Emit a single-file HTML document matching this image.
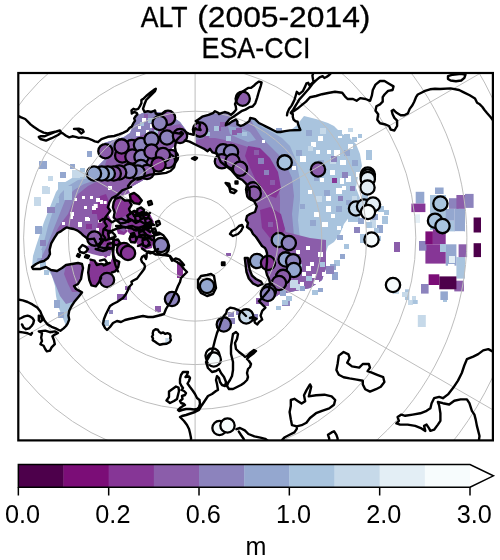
<!DOCTYPE html><html><head><meta charset="utf-8"><style>html,body{margin:0;padding:0;background:#fff;width:500px;height:560px;overflow:hidden}svg{display:block}text{font-family:"Liberation Sans",sans-serif;fill:#000}svg{will-change:transform}</style></head><body>
<svg width="500" height="560" viewBox="0 0 500 560">
<defs><clipPath id="mc"><rect x="18.3" y="73" width="474.6" height="367.4"/></clipPath></defs>
<text x="140.7" y="26.9" font-size="29.5" stroke="#000" stroke-width="0.3" textLength="46.92" lengthAdjust="spacingAndGlyphs">ALT</text>
<text x="197.2" y="26.9" font-size="29.5" stroke="#000" stroke-width="0.3" textLength="173.23" lengthAdjust="spacingAndGlyphs">(2005-2014)</text>
<text x="201.5" y="58.4" font-size="29.5" stroke="#000" stroke-width="0.3" textLength="108.87" lengthAdjust="spacingAndGlyphs">ESA-CCI</text>
<g clip-path="url(#mc)">
<polygon fill="#a9c4de" points="195,121 202,117 208,115 213,113 218,113 224,112 228,113 231,115 229,119 226,123 226,125 229,124 232,122 236,120 237,122 237,124 241,126 244,125 247,123 249,121 250,118 253,118.5 255,119 259,123 262.5,125 266,126.6 269.7,128.4 273.3,130.2 276.9,132 280.5,132 285,131 290,130.4 296,126 300,121 304,116 316,119 328,123 334,126 342,134 350,138 356,144 360,154 362,166 358,176 356,188 360,198 356,208 350,216 344,224 340,234 334,242 328,246 326,252 326,268 322,280 316,284 310,288 300,290 290,292 280,294 270,300 262,302 262,301 266,296 269,289 270,283 269,279 267,275 266,271 267,262 267,253 266,250 265,248 262,246 260,243 258,240 256,237 253,234 251,230 247,227 248,223 246,220 247,216 250,214 255,212 256.8,206.4 254.4,201.6 249.6,196.8 249.6,190 246,183.6 242.4,180 237.6,177.6 231.6,170.4 226,166 220.8,162 217.2,153.6 212.4,152.4 210,148.8 207.6,151.2 204,148.8 196,145"/>
<polygon fill="#94a7cf" points="195,121 202,117 208,115 213,113 218,113 224,112 228,113 231,115 229,119 226,123 226,125 229,124 232,122 236,120 237,122 237,124 241,126 244,125 247,123 249,121 250,118 253,118.5 255,119 259,123 262,127 272,132 282,138 290,146 296,160 300,180 300,200 298,220 300,238 326,268 322,280 316,284 310,288 300,290 290,292 280,294 270,300 262,302 262,301 266,296 269,289 270,283 269,279 267,275 266,271 267,262 267,253 266,250 265,248 262,246 260,243 258,240 256,237 253,234 251,230 247,227 248,223 246,220 247,216 250,214 255,212 256.8,206.4 254.4,201.6 249.6,196.8 249.6,190 246,183.6 242.4,180 237.6,177.6 231.6,170.4 226,166 220.8,162 217.2,153.6 212.4,152.4 210,148.8 207.6,151.2 204,148.8 196,145"/>
<polygon fill="#8c83bd" points="195,121 202,117 208,115 213,113 218,113 224,112 228,113 231,115 229,119 226,123 226,125 229,124 232,122 236,120 237,122 237,124 241,126 244,125 247,123 249,121 250,118 254,126 262,138 272,148 284,160 292,178 294,196 292,214 294,236 326,268 322,280 316,284 310,288 300,290 290,292 280,294 270,300 262,302 262,301 266,296 269,289 270,283 269,279 267,275 266,271 267,262 267,253 266,250 265,248 262,246 260,243 258,240 256,237 253,234 251,230 247,227 248,223 246,220 247,216 250,214 255,212 256.8,206.4 254.4,201.6 249.6,196.8 249.6,190 246,183.6 242.4,180 237.6,177.6 231.6,170.4 226,166 220.8,162 217.2,153.6 212.4,152.4 210,148.8 207.6,151.2 204,148.8 196,145"/>
<polygon fill="#8b5daa" points="196,140 205,138 215,138 225,140 235,143 245,146 255,150 265,158 272,168 278,182 280,198 280,214 286,232 310,238 326,240 326,268 322,280 316,284 310,288 300,290 290,292 280,294 270,300 262,302 262,301 266,296 269,289 270,283 269,279 267,275 266,271 267,262 267,253 266,250 265,248 262,246 260,243 258,240 256,237 253,234 251,230 247,227 248,223 246,220 247,216 250,214 255,212 256.8,206.4 254.4,201.6 249.6,196.8 249.6,190 246,183.6 242.4,180 237.6,177.6 231.6,170.4 226,166 220.8,162 217.2,153.6 212.4,152.4 210,148.8 207.6,151.2 204,148.8 196,145"/>
<polygon fill="#863696" points="248,146 260,148 270,158 278,172 281,188 276,198 267,195 258,185 251,170 245,156"/>
<polygon fill="#863696" points="260,210 270,207 281,214 285,229 280,240 270,238 262,228"/>
<polygon fill="#94a7cf" points="228,126 240,128 250,132 256,140 248,142 238,138 230,134"/>
<polygon fill="#a9c4de" points="92,178 96,168 104,160 108,150 104,143 114,140 124,137 130,133 134,124 136,116 145,112 158,112 170,115 180,122 186,130 184,138 176,144 170,150 166,158 160,168 150,176 140,182 131,187 127,188.5 122.2,190.3 117.1,195.4 112,198 109.5,202.2 107.8,207.3 110.3,210.7 107.8,214.1 105.2,217.5 104.4,221.8 106.9,226 103.5,229.4 102.7,234.5 105.2,237.9 102.7,241.3 100.1,244.7 98.4,248.1 94,240 88,239.4 83,235 77.6,230.6 73.6,229 69.6,228.2 66.4,227.4 64,229 60.8,231.4 57.6,233 54.4,237.8 51.2,243.4 49.6,249.8 50,254 48,258 44,261 40,262 36,264 32,267 32,267 33,256 36,246 40,234 44,222 48,212 52,202 56,192 62,184 72,178 84,176"/>
<polygon fill="#94a7cf" points="92,178 96,168 104,160 108,150 104,143 114,140 124,137 130,133 134,124 136,116 145,112 158,112 170,115 180,122 186,130 184,138 176,144 170,150 166,158 160,168 150,176 140,182 131,187 127,188.5 122.2,190.3 117.1,195.4 112,198 109.5,202.2 107.8,207.3 110.3,210.7 107.8,214.1 105.2,217.5 104.4,221.8 106.9,226 103.5,229.4 102.7,234.5 105.2,237.9 102.7,241.3 100.1,244.7 98.4,248.1 94,240 88,239.4 83,235 77.6,230.6 73.6,229 69.6,228.2 66.4,227.4 64,229 60.8,231.4 57.6,233 54.4,237.8 51.2,243.4 49.6,249.8 50,254 48,258 44,261 40,262 36,264 32,267 36,264 38,256 42,248 45,238 48,226 52,214 56,204 60,194 68,186 78,180 90,178"/>
<polygon fill="#8c83bd" points="92,178 96,168 104,160 108,150 104,143 114,140 124,137 130,133 134,124 136,116 145,112 158,112 170,115 180,122 186,130 184,138 176,144 170,150 166,158 160,168 150,176 140,182 131,187 127,188.5 122.2,190.3 117.1,195.4 112,198 109.5,202.2 107.8,207.3 110.3,210.7 107.8,214.1 105.2,217.5 104.4,221.8 106.9,226 103.5,229.4 102.7,234.5 105.2,237.9 102.7,241.3 100.1,244.7 98.4,248.1 94,240 88,239.4 83,235 77.6,230.6 73.6,229 69.6,228.2 66.4,227.4 64,229 60.8,231.4 57.6,233 54.4,237.8 51.2,243.4 49.6,249.8 50,254 48,258 44,261 40,262 36,264 32,267 40,262 42,256 46,248 50,238 54,228 58,218 62,208 66,198 74,190 84,184 96,180"/>
<polygon fill="#8b5daa" points="110,150 120,142 130,140 140,136 150,132 160,128 170,126 180,124 186,130 184,138 176,144 170,150 166,158 160,168 150,176 140,182 131,187 127,188.5 122.2,190.3 117.1,195.4 112,198 109.5,202.2 107.8,207.3 110.3,210.7 107.8,214.1 105.2,217.5 104.4,221.8 106.9,226 103.5,229.4 102.7,234.5 105.2,237.9 102.7,241.3 100.1,244.7 98.4,248.1 94,240 88,239.4 83,235 77.6,230.6 73.6,229 69.6,228.2 66.4,227.4 64,229 60.8,231.4 56,232 58,228 62,222 68,214 72,204 78,194 88,186 100,180"/>
<polygon fill="#863696" points="115.4,198.8 120.5,197.1 124.8,200.5 129,200.5 131.6,204.8 129,209 130.7,213.3 127.3,215.8 129,219.2 125.6,222.6 120.5,223.5 117.1,220.9 113.7,217.5 114.6,212.4 112.9,207.3 113.7,202.2"/>
<polygon fill="#7b0d77" points="129.9,194.6 134.1,192.9 138.4,196.3 141.8,200.5 139.2,203.9 134.1,203.1 130.7,199.7"/>
<polygon fill="#a9c4de" points="46,267 51,270 57,271 62,268 66,265 72,264 78,263 82,264 83,268 82,273 81,279 78,284 74,286 76,289 82,292.4 78.8,296.4 74.8,301.2 71.6,306 69.2,310.8 68.4,315.6 69.2,319.6 67.6,323.6 66,326 62,316 58,306 56,296 55,286 52,276"/>
<polygon fill="#8c83bd" points="46,267 51,270 57,271 62,268 66,265 72,264 78,263 82,264 83,268 82,273 81,279 78,284 74,286 76,289 82,292.4 78.8,296.4 74.8,301.2 66,304 60,296 56,286 52,276 50,270"/>
<polygon fill="#8b5daa" points="66,265 72,264 78,263 82,264 83,268 82,273 81,279 78,284 74,286 76,289 78,292 72,292 68,284 64,274"/>
<polygon fill="#863696" points="100,196 106,194 110,204 108,214 112,222 110,236 112,250 106,258 98,252 96,236 98,222 96,208"/>
<polygon fill="#863696" points="137.5,209 141,207.5 144,210 143,214 139,214.5 137,212"/>
<polygon fill="#863696" points="143,213.5 146.5,212.5 149,215.5 147.5,218.5 144,218"/>
<polygon fill="#7b0d77" points="145,219 149,218 151.5,221 150,225 146,224.5"/>
<polygon fill="#863696" points="130.5,236 134.5,235 137,238.5 135,242.5 131,242 129.5,239"/>
<polygon fill="#863696" points="139,232 143,231 146,234 144.5,237.5 140,237"/>
<polygon fill="#8b5daa" points="142.5,240 147,239 149.5,243 147,246.5 143,245.5"/>
<polygon fill="#863696" points="114,240 118,239.5 120,243 117,245.5 113.5,244"/>
<polygon fill="#863696" points="116,228 124,227 128,231 124,235 118,234"/>
<polygon fill="#863696" points="100,222 106,220 108,226 104,230"/>
<polygon fill="#863696" points="130,212 140,210 150,214 154,222 150,230 154,240 152,248 144,250 138,246 134,238 128,232 126,222"/>
<polygon fill="#8b5daa" points="120,218 126,216 128,226 124,232 120,230"/>
<polygon fill="#863696" points="90,260 95,261 101,264 106,265 110,263 113,256 113,246 116,260 119,262 118,267 115,271 110,273 104,276 100,279 96,286 91,285 89,280 88,272 89,265"/>
<polygon fill="#8b5daa" points="86,246 96,244 106,246 112,250 110,256 100,256 92,254 86,252"/>
<polygon fill="#8b5daa" points="110,190 120,188 128,189 130,193 122,196 114,199 110,196"/>
<polygon fill="#8b5daa" points="244.8,258 245.6,265 246.5,272 248.8,278.5 253,283.5 258,286 262.5,284 261,281.5 256,279 252,275.5 249.8,270 248.6,264 247.8,258"/>
<rect fill="#a9c4de" x="335" y="222" width="8" height="6"/>
<rect fill="#a9c4de" x="348" y="214" width="12" height="8"/>
<rect fill="#a9c4de" x="360" y="234" width="6" height="9"/>
<rect fill="#a9c4de" x="382" y="216" width="6" height="8"/>
<rect fill="#a9c4de" x="334" y="260" width="6" height="6"/>
<rect fill="#a9c4de" x="366" y="150" width="6" height="10"/>
<rect fill="#a9c4de" x="362" y="190" width="6" height="6"/>
<rect fill="#a9c4de" x="344" y="244" width="5" height="5"/>
<rect fill="#a9c4de" x="376" y="236" width="5" height="5"/>
<rect fill="#94a7cf" x="337" y="235" width="6" height="5"/>
<rect fill="#94a7cf" x="377" y="225" width="6" height="8"/>
<rect fill="#94a7cf" x="332" y="272" width="6" height="8"/>
<rect fill="#94a7cf" x="330" y="264" width="6" height="6"/>
<rect fill="#94a7cf" x="340" y="254" width="5" height="5"/>
<rect fill="#8c83bd" x="354" y="227" width="6" height="6"/>
<rect fill="#8c83bd" x="326" y="266" width="8" height="8"/>
<rect fill="#8c83bd" x="282" y="300" width="8" height="6"/>
<rect fill="#c6d9e9" x="370" y="220" width="6" height="8"/>
<rect fill="#c6d9e9" x="290" y="280" width="8" height="8"/>
<rect fill="#c6d9e9" x="296" y="284" width="6" height="6"/>
<rect fill="#c6d9e9" x="352" y="196" width="5" height="5"/>
<rect fill="#8b5daa" x="394" y="242" width="6" height="10"/>
<rect fill="#8b5daa" x="318" y="242" width="8" height="6"/>
<rect fill="#863696" x="332" y="178" width="5" height="5"/>
<rect fill="#ffffff" x="311" y="142" width="5" height="5"/>
<rect fill="#ffffff" x="300" y="156" width="6" height="6"/>
<rect fill="#ffffff" x="316" y="150" width="4" height="4"/>
<rect fill="#ffffff" x="306" y="266" width="5" height="5"/>
<rect fill="#ffffff" x="312" y="274" width="4" height="4"/>
<rect fill="#ffffff" x="300" y="282" width="4" height="4"/>
<rect fill="#ffffff" x="320" y="178" width="4" height="4"/>
<rect fill="#ffffff" x="326" y="196" width="5" height="5"/>
<rect fill="#ffffff" x="340" y="160" width="6" height="5"/>
<rect fill="#ffffff" x="346" y="176" width="5" height="6"/>
<rect fill="#ffffff" x="292" y="166" width="4" height="4"/>
<rect fill="#ffffff" x="262" y="140" width="3" height="3"/>
<rect fill="#a9c4de" x="430" y="195" width="16" height="35"/>
<rect fill="#a9c4de" x="445.7" y="220.7" width="8.6" height="10.7"/>
<rect fill="#a9c4de" x="456.4" y="257.1" width="8.6" height="21.5"/>
<rect fill="#a9c4de" x="405" y="289.3" width="4.3" height="10.7"/>
<rect fill="#94a7cf" x="435" y="187.5" width="8.6" height="6.5"/>
<rect fill="#94a7cf" x="415.7" y="191.8" width="8.6" height="11.8"/>
<rect fill="#94a7cf" x="445.7" y="244.3" width="10.7" height="21.4"/>
<rect fill="#94a7cf" x="440.4" y="291.4" width="7.5" height="8.6"/>
<rect fill="#863696" x="411.4" y="203.6" width="14" height="8.5"/>
<rect fill="#863696" x="432.9" y="229.3" width="12.8" height="15"/>
<rect fill="#863696" x="425.4" y="244.3" width="20.3" height="19.3"/>
<rect fill="#e3eef5" x="414.6" y="214.3" width="5.4" height="8.6"/>
<rect fill="#e3eef5" x="449" y="256" width="6" height="7"/>
<rect fill="#8c83bd" x="449" y="198.2" width="9.6" height="10.7"/>
<rect fill="#8c83bd" x="465" y="193.9" width="8.6" height="14"/>
<rect fill="#8c83bd" x="419" y="241" width="7.4" height="9.7"/>
<rect fill="#8c83bd" x="421" y="284" width="7.6" height="9.6"/>
<rect fill="#8b5daa" x="456.4" y="195" width="8.6" height="13.9"/>
<rect fill="#8b5daa" x="458.6" y="244.3" width="8.5" height="12.8"/>
<rect fill="#8b5daa" x="454.3" y="280.7" width="9.6" height="10.7"/>
<rect fill="#4d004b" x="473.6" y="217.5" width="7.4" height="15"/>
<rect fill="#4d004b" x="473.6" y="243.2" width="7.4" height="13.9"/>
<rect fill="#4d004b" x="439.3" y="276.4" width="17.1" height="12.9"/>
<rect fill="#7b0d77" x="425.4" y="231.4" width="7.5" height="12.9"/>
<rect fill="#7b0d77" x="428.6" y="274.3" width="10.7" height="10.7"/>
<rect fill="#8b5daa" x="155" y="306" width="6" height="6"/>
<rect fill="#8b5daa" x="117" y="294" width="10" height="6"/>
<rect fill="#8b5daa" x="125" y="286" width="6" height="4"/>
<rect fill="#8b5daa" x="256" y="298" width="8" height="6"/>
<rect fill="#8b5daa" x="226" y="253" width="5" height="3"/>
<rect fill="#863696" x="177" y="262" width="6" height="16"/>
<rect fill="#a9c4de" x="102" y="320" width="7" height="6"/>
<rect fill="#8c83bd" x="109" y="310" width="4" height="4"/>
<rect fill="#8c83bd" x="224" y="318" width="11" height="6"/>
<rect fill="#8c83bd" x="241" y="311" width="12" height="11"/>
<rect fill="#ffffff" x="334" y="150" width="6" height="6"/>
<rect fill="#ffffff" x="330" y="170" width="5" height="5"/>
<rect fill="#ffffff" x="336" y="188" width="6" height="6"/>
<rect fill="#ffffff" x="326" y="206" width="5" height="6"/>
<rect fill="#ffffff" x="322" y="222" width="6" height="5"/>
<rect fill="#ffffff" x="318" y="136" width="5" height="5"/>
<rect fill="#ffffff" x="308" y="190" width="4" height="4"/>
<rect fill="#ffffff" x="314" y="212" width="5" height="5"/>
<rect fill="#ffffff" x="338" y="132" width="4" height="6"/>
<rect fill="#ffffff" x="340" y="178" width="4" height="6"/>
<rect fill="#ffffff" x="331" y="214" width="4" height="4"/>
<rect fill="#94a7cf" x="306" y="130" width="6" height="6"/>
<rect fill="#94a7cf" x="318" y="160" width="6" height="6"/>
<rect fill="#94a7cf" x="324" y="190" width="6" height="6"/>
<rect fill="#94a7cf" x="310" y="220" width="6" height="6"/>
<rect fill="#94a7cf" x="296" y="150" width="6" height="6"/>
<rect fill="#94a7cf" x="314" y="176" width="5" height="5"/>
<rect fill="#94a7cf" x="300" y="204" width="5" height="5"/>
<rect fill="#94a7cf" x="276" y="128" width="6" height="5"/>
<rect fill="#c6d9e9" x="320" y="128" width="6" height="6"/>
<rect fill="#c6d9e9" x="330" y="158" width="6" height="6"/>
<rect fill="#c6d9e9" x="316" y="196" width="6" height="6"/>
<rect fill="#c6d9e9" x="308" y="146" width="5" height="5"/>
<rect fill="#8c83bd" x="212" y="124" width="6" height="6"/>
<rect fill="#8c83bd" x="222" y="132" width="6" height="6"/>
<rect fill="#8c83bd" x="206" y="128" width="5" height="5"/>
<rect fill="#8b5daa" x="216" y="126" width="5" height="5"/>
<rect fill="#8b5daa" x="232" y="130" width="5" height="5"/>
<rect fill="#8b5daa" x="204" y="136" width="5" height="5"/>
<rect fill="#94a7cf" x="39" y="161" width="8" height="8"/>
<rect fill="#94a7cf" x="35" y="226" width="7" height="8"/>
<rect fill="#94a7cf" x="87" y="151" width="5" height="6"/>
<rect fill="#94a7cf" x="60" y="172" width="6" height="6"/>
<rect fill="#94a7cf" x="70" y="164" width="5" height="5"/>
<rect fill="#c6d9e9" x="44" y="187" width="6" height="7"/>
<rect fill="#c6d9e9" x="34" y="197" width="7" height="9"/>
<rect fill="#c6d9e9" x="48" y="176" width="5" height="5"/>
<rect fill="#8c83bd" x="47" y="207" width="8" height="6"/>
<rect fill="#8c83bd" x="40" y="240" width="6" height="6"/>
<rect fill="#a9c4de" x="75" y="173" width="9" height="6"/>
<rect fill="#a9c4de" x="64" y="186" width="8" height="7"/>
<rect fill="#a9c4de" x="54" y="198" width="5" height="5"/>
<rect fill="#a9c4de" x="80" y="168" width="5" height="5"/>
<rect fill="#a9c4de" x="36" y="250" width="6" height="8"/>
<rect fill="#ffffff" x="93.7" y="204" width="4" height="4"/>
<rect fill="#ffffff" x="85" y="217" width="4" height="4"/>
<rect fill="#ffffff" x="98" y="218.6" width="4" height="4"/>
<rect fill="#ffffff" x="78" y="223" width="4" height="4"/>
<rect fill="#ffffff" x="103.7" y="201" width="3" height="3"/>
<rect fill="#ffffff" x="90" y="196" width="3" height="3"/>
<rect fill="#ffffff" x="70" y="212" width="4" height="4"/>
<rect fill="#ffffff" x="96" y="228" width="3" height="3"/>
<rect fill="#ffffff" x="62" y="222" width="3" height="3"/>
<rect fill="#ffffff" x="84" y="206" width="3" height="3"/>
<rect fill="#ffffff" x="74" y="198" width="3" height="3"/>
<rect fill="#863696" x="92" y="208" width="6" height="6"/>
<rect fill="#863696" x="98" y="212" width="5" height="8"/>
<rect fill="#863696" x="86" y="224" width="6" height="5"/>
<rect fill="#a9c4de" x="40" y="262" width="6" height="6"/>
<rect fill="#a9c4de" x="44" y="270" width="5" height="5"/>
<rect fill="#94a7cf" x="54" y="300" width="6" height="8"/>
<rect fill="#94a7cf" x="58" y="312" width="6" height="6"/>
<rect fill="#ffffff" x="318" y="252" width="5" height="5"/>
<rect fill="#ffffff" x="310" y="262" width="4" height="4"/>
<rect fill="#ffffff" x="322" y="272" width="4" height="4"/>
<rect fill="#ffffff" x="302" y="272" width="4" height="4"/>
<rect fill="#ffffff" x="314" y="280" width="5" height="4"/>
<rect fill="#ffffff" x="296" y="250" width="4" height="4"/>
<rect fill="#ffffff" x="306" y="246" width="4" height="4"/>
<rect fill="#ffffff" x="326" y="258" width="3" height="5"/>
<rect fill="#a9c4de" x="296" y="264" width="6" height="6"/>
<rect fill="#a9c4de" x="306" y="276" width="6" height="5"/>
<rect fill="#a9c4de" x="320" y="262" width="5" height="5"/>
<rect fill="#a9c4de" x="312" y="290" width="6" height="5"/>
<rect fill="#a9c4de" x="286" y="296" width="6" height="5"/>
<rect fill="#94a7cf" x="280" y="290" width="6" height="6"/>
<rect fill="#94a7cf" x="300" y="286" width="5" height="5"/>
<rect fill="#94a7cf" x="318" y="288" width="5" height="4"/>
<rect fill="#c6d9e9" x="417.8" y="315" width="8" height="12"/>
<rect fill="#c6d9e9" x="393" y="288" width="6" height="6"/>
<rect fill="#c6d9e9" x="402" y="292" width="6" height="5"/>
<rect fill="#c6d9e9" x="408" y="300" width="5" height="5"/>
<rect fill="#c6d9e9" x="412" y="296" width="4" height="4"/>
<rect fill="#a9c4de" x="412.7" y="300" width="5" height="4"/>
<rect fill="#a9c4de" x="443" y="300" width="4" height="2"/>
<rect fill="#8c83bd" x="228" y="312" width="6" height="5"/>
<rect fill="#8c83bd" x="236" y="310" width="5" height="5"/>
<rect fill="#8c83bd" x="252" y="314" width="6" height="5"/>
<rect fill="#8b5daa" x="260" y="296" width="6" height="5"/>
<rect fill="#8b5daa" x="264" y="302" width="5" height="4"/>
<rect fill="#a9c4de" x="282" y="300" width="6" height="5"/>
<rect fill="#a9c4de" x="276" y="306" width="5" height="4"/>
<rect fill="#a9c4de" x="336" y="130" width="6" height="6"/>
<rect fill="#a9c4de" x="344" y="134" width="6" height="6"/>
<rect fill="#a9c4de" x="352" y="137" width="5" height="5"/>
<rect fill="#a9c4de" x="358" y="134" width="4" height="4"/>
<rect fill="#c6d9e9" x="348" y="128" width="5" height="4"/>
<rect fill="#ffffff" x="92" y="206" width="4" height="4"/>
<rect fill="#ffffff" x="96" y="198" width="4" height="4"/>
<rect fill="#ffffff" x="100" y="200" width="3" height="4"/>
<rect fill="#ffffff" x="78" y="222" width="4" height="4"/>
<rect fill="#ffffff" x="86" y="218" width="4" height="3"/>
<rect fill="#ffffff" x="108" y="186" width="4" height="4"/>
<rect fill="#ffffff" x="82" y="196" width="3" height="3"/>
<rect fill="#ffffff" x="70" y="216" width="3" height="3"/>
<rect fill="#c6d9e9" x="72" y="170" width="8" height="8"/>
<rect fill="#c6d9e9" x="80" y="172" width="6" height="5"/>
<rect fill="#c6d9e9" x="42" y="186" width="6" height="8"/>
<rect fill="#a9c4de" x="58" y="182" width="8" height="8"/>
<rect fill="#a9c4de" x="64" y="192" width="8" height="8"/>
<rect fill="#94a7cf" x="454.3" y="208.9" width="10.7" height="22.5"/>
<rect fill="#94a7cf" x="445.7" y="208.9" width="8.6" height="11.8"/>
<rect fill="#ffffff" x="455" y="231.4" width="9" height="11"/>
<rect fill="#ffffff" x="448" y="264" width="6.5" height="8.5"/>
<rect fill="#a9c4de" x="440" y="244" width="6" height="8"/>
<rect fill="#ffffff" x="142" y="118" width="4" height="4"/>
<rect fill="#ffffff" x="150" y="124" width="4" height="4"/>
<rect fill="#ffffff" x="146" y="130" width="3" height="3"/>
<rect fill="#ffffff" x="156" y="116" width="4" height="3"/>
<rect fill="#ffffff" x="138" y="126" width="3" height="3"/>
<rect fill="#ffffff" x="136" y="132" width="4" height="4"/>
<rect fill="#a9c4de" x="148" y="118" width="5" height="5"/>
<rect fill="#a9c4de" x="140" y="122" width="4" height="4"/>
<rect fill="#a9c4de" x="154" y="130" width="4" height="4"/>
<rect fill="#8b5daa" x="152" y="126" width="5" height="4"/>
<rect fill="#8b5daa" x="144" y="114" width="4" height="4"/>
<rect fill="#a9c4de" x="214" y="126" width="5" height="5"/>
<rect fill="#a9c4de" x="226" y="136" width="5" height="5"/>
<rect fill="#a9c4de" x="242" y="132" width="5" height="4"/>
<rect fill="#a9c4de" x="206" y="132" width="4" height="4"/>
<rect fill="#8b5daa" x="220" y="122" width="5" height="5"/>
<rect fill="#8b5daa" x="236" y="128" width="6" height="5"/>
<rect fill="#8b5daa" x="210" y="138" width="5" height="4"/>
<rect fill="#8c83bd" x="331" y="156" width="6" height="6"/>
<rect fill="#8c83bd" x="342" y="172" width="6" height="6"/>
<rect fill="#8c83bd" x="350" y="186" width="5" height="5"/>
<rect fill="#8c83bd" x="338" y="196" width="5" height="5"/>
<rect fill="#94a7cf" x="344" y="150" width="6" height="6"/>
<rect fill="#94a7cf" x="352" y="160" width="6" height="6"/>
<rect fill="#94a7cf" x="336" y="206" width="6" height="6"/>
<rect fill="#94a7cf" x="346" y="200" width="5" height="5"/>
<rect fill="#94a7cf" x="358" y="218" width="6" height="6"/>
<rect fill="#94a7cf" x="372" y="214" width="6" height="6"/>
<rect fill="#ffffff" x="348" y="144" width="5" height="5"/>
<rect fill="#ffffff" x="356" y="172" width="5" height="5"/>
<rect fill="#ffffff" x="342" y="186" width="4" height="4"/>
<rect fill="#ffffff" x="350" y="208" width="4" height="4"/>
<rect fill="#ffffff" x="337" y="226" width="4" height="4"/>
<rect fill="#ffffff" x="327" y="150" width="4" height="4"/>
<rect fill="#a9c4de" x="362" y="196" width="6" height="8"/>
<rect fill="#a9c4de" x="378" y="206" width="6" height="6"/>
<rect fill="#a9c4de" x="366" y="222" width="6" height="6"/>
<rect fill="#a9c4de" x="374" y="228" width="5" height="5"/>
<rect fill="#a9c4de" x="384" y="210" width="5" height="5"/>
<rect fill="#c6d9e9" x="165.3" y="338" width="3.5" height="6"/>
<rect fill="#8c83bd" x="258" y="158" width="6" height="6"/>
<rect fill="#8c83bd" x="264" y="170" width="5" height="5"/>
<rect fill="#8b5daa" x="270" y="180" width="5" height="5"/>
<rect fill="#8b5daa" x="254" y="150" width="5" height="5"/>
<rect fill="#8b5daa" x="268" y="222" width="5" height="5"/>
<g stroke="#000" stroke-width="2.3"><circle cx="168" cy="117.8" r="7.15" fill="#8b5daa"/><circle cx="159.7" cy="123" r="7.15" fill="#8c83bd"/><circle cx="131.8" cy="147" r="7.15" fill="#8b5daa"/><circle cx="122.2" cy="155.4" r="7.15" fill="#863696"/><circle cx="121.6" cy="146.4" r="7.15" fill="#8b5daa"/><circle cx="105.4" cy="151.2" r="7.15" fill="#8b5daa"/><circle cx="132.4" cy="156.6" r="7.15" fill="#8b5daa"/><circle cx="141" cy="145" r="7.15" fill="#8c83bd"/><circle cx="141.5" cy="157" r="7.15" fill="#8c83bd"/><circle cx="151.5" cy="139.5" r="7.15" fill="#8c83bd"/><circle cx="167" cy="137.5" r="7.15" fill="#8c83bd"/><circle cx="180" cy="136" r="7.15" fill="#8b5daa"/><circle cx="151.5" cy="151.5" r="7.15" fill="#8b5daa"/><circle cx="171" cy="157" r="7.15" fill="#8b5daa"/><circle cx="168" cy="161" r="7.15" fill="#8b5daa"/><circle cx="163" cy="155" r="7.15" fill="#8b5daa"/><circle cx="158.5" cy="164.5" r="7.15" fill="#863696"/><circle cx="141" cy="167" r="7.15" fill="#8c83bd"/><circle cx="147" cy="172" r="7.15" fill="#8b5daa"/><circle cx="137.8" cy="172.5" r="7.15" fill="#8c83bd"/><circle cx="129.4" cy="171" r="7.15" fill="#8c83bd"/><circle cx="119.2" cy="172.5" r="7.15" fill="#8b5daa"/><circle cx="113.8" cy="173.5" r="7.15" fill="#8b5daa"/><circle cx="107.8" cy="173.5" r="7.15" fill="#94a7cf"/><circle cx="101.8" cy="173.5" r="7.15" fill="#94a7cf"/><circle cx="94" cy="173.5" r="7.15" fill="#94a7cf"/><circle cx="200" cy="129.6" r="7.15" fill="#8b5daa"/><circle cx="242.7" cy="98.7" r="7.15" fill="#8b5daa"/><circle cx="223.1" cy="151.3" r="7.15" fill="#8c83bd"/><circle cx="231" cy="152" r="7.15" fill="#8c83bd"/><circle cx="221.9" cy="161.3" r="7.15" fill="#8b5daa"/><circle cx="232.5" cy="161.3" r="7.15" fill="#8b5daa"/><circle cx="240" cy="168.8" r="7.15" fill="#8b5daa"/><circle cx="253.1" cy="189.4" r="7.15" fill="#8b5daa"/><circle cx="253.8" cy="193.5" r="7.15" fill="#8b5daa"/><circle cx="284.7" cy="162.4" r="7.15" fill="#a9c4de"/><circle cx="318" cy="169.5" r="7.15" fill="#8b5daa"/><circle cx="278.8" cy="240" r="7.15" fill="#94a7cf"/><circle cx="288.8" cy="243.1" r="7.15" fill="#8c83bd"/><circle cx="257" cy="261" r="7.15" fill="#94a7cf"/><circle cx="268" cy="263" r="7.15" fill="#863696"/><circle cx="285.6" cy="259.4" r="7.15" fill="#94a7cf"/><circle cx="293.1" cy="261.3" r="7.15" fill="#8c83bd"/><circle cx="293.8" cy="270" r="7.15" fill="#94a7cf"/><circle cx="283.1" cy="276.9" r="7.15" fill="#8b5daa"/><circle cx="279" cy="283" r="7.15" fill="#8b5daa"/><circle cx="268.8" cy="291.3" r="7.15" fill="#8c83bd"/><circle cx="367.8" cy="174.5" r="7.15" fill="#e3eef5"/><circle cx="367.8" cy="176.5" r="7.15" fill="#e3eef5"/><circle cx="367.8" cy="179" r="7.15" fill="#e3eef5"/><circle cx="367.5" cy="187.5" r="7.15" fill="#e3eef5"/><circle cx="356" cy="208.5" r="7.15" fill="#c6d9e9"/><circle cx="364" cy="206.5" r="7.15" fill="#c6d9e9"/><circle cx="373" cy="204.5" r="7.15" fill="#e3eef5"/><circle cx="368" cy="212" r="7.15" fill="#f7fcfd"/><circle cx="371.5" cy="239.5" r="7.15" fill="#f7fcfd"/><circle cx="440.4" cy="203.6" r="7.15" fill="#a9c4de"/><circle cx="435" cy="220.7" r="7.15" fill="#a9c4de"/><circle cx="442.5" cy="226.1" r="7.15" fill="#a9c4de"/><circle cx="94.4" cy="238.6" r="7.15" fill="#8b5daa"/><circle cx="124" cy="250" r="7.15" fill="#863696"/><circle cx="107" cy="280" r="7.15" fill="#8b5daa"/><circle cx="161" cy="245" r="7.15" fill="#8c83bd"/><circle cx="172" cy="299" r="7.15" fill="#8c83bd"/><circle cx="207" cy="286" r="7.15" fill="#94a7cf"/><circle cx="223.8" cy="324.4" r="7.15" fill="#8c83bd"/><circle cx="246.2" cy="316.4" r="7.15" fill="#c6d9e9"/><circle cx="267.8" cy="294" r="7.15" fill="#8c83bd"/><circle cx="212.6" cy="355.6" r="7.15" fill="#f7fcfd"/><circle cx="219.5" cy="428" r="7.15" fill="#f7fcfd"/><circle cx="227.5" cy="425.5" r="7.15" fill="#f7fcfd"/><circle cx="393" cy="285" r="7.15" fill="#f7fcfd"/><circle cx="128" cy="253" r="7.15" fill="#863696"/><circle cx="213.8" cy="359.5" r="7.15" fill="#f7fcfd"/></g>
<g fill="none" stroke="#bdbdbd" stroke-width="1"><circle cx="195.1" cy="237.9" r="41.40"/><circle cx="195.1" cy="237.9" r="83.20"/><circle cx="195.1" cy="237.9" r="126.70"/><circle cx="195.1" cy="237.9" r="171.50"/><circle cx="195.1" cy="237.9" r="220.70"/><circle cx="195.1" cy="237.9" r="271.80"/><circle cx="195.1" cy="237.9" r="328.50"/><line x1="195.10" y1="239.40" x2="195.10" y2="837.90"/><line x1="196.40" y1="238.65" x2="714.72" y2="537.90"/><line x1="196.40" y1="237.15" x2="714.72" y2="-62.10"/><line x1="195.10" y1="236.40" x2="195.10" y2="-362.10"/><line x1="193.80" y1="237.15" x2="-324.52" y2="-62.10"/><line x1="193.80" y1="238.65" x2="-324.52" y2="537.90"/></g>
<path fill="none" stroke="#000" stroke-width="2.4" stroke-linejoin="round" stroke-linecap="round" d="M18,115.8 L21.2,117.4 L25.2,119 L27.6,121.4 L30.8,124.6 L34,127 L38.8,130.2 L43.6,132.6 L47.6,133.4 L52,132.5 L56.4,131.5 L59.9,130.5 L61.2,132.6 L62.8,133.4 L66,135.8 L69.2,137.4 L72.4,136.3 L75.6,136.9 L78.8,137.9 L82,137.4 L85.2,137.9 L88.4,138.5 L91.6,139.8 L94.8,141.4 L98,142.2 L101.4,139.2 L107.8,136.8 L114.2,136 L119,134.4 L123,132.8 L127,130.9 L129.4,128 L131.8,126.4 L133.4,123.2 L135,120.8 L134.2,118.4 L135.8,116 L137.4,114.4 L136.6,112.8 L134.2,112 L131.8,113.6 L131.5,110.4 L133.4,108.8 L135.8,109.6 L138.2,108.8 L139.8,106.4 L141.4,103.2 L141.4,100 L143.8,98.4 L146.2,96 L150.2,92.8 L154.2,89.6 L155.8,88.8 L155,91.2 L151,95.2 L146.2,100 L144.6,104 L143,108.8 L144.6,112 L147.8,111.2 L151,112 L153.4,111.2 L155,110.4 L155.8,113.6 L158.2,114.4 L162.2,113.6 L165.4,112 M38.8,136.9 L40.4,139 L46,140.6 L51.6,138.2 L58,135 L61.2,132.6 L59.9,130.5 L56.4,131.5 L51.6,133.4 L47.6,135 L44.4,136.3 L40.4,136.3 Z M74,128.9 L78.8,128.6 L82.8,129.9 L83.6,131.8 L81.2,133.4 L79.6,131.8 L77.2,129.4 Z M185,131.2 L186.2,132.4 L188.6,133.6 L191,134.2 L193.4,134.8 L194.6,130 L195.2,128.2 L197,129.4 L200.6,130 L199.4,127.6 L200,124.6 L197.6,121.6 L195.8,121 L197,120.4 L202.2,116.7 L208.5,114.9 L213,113.1 L215,111.2 L218.2,112.8 L219,114 L221.4,113.2 L224.6,112 L227.8,112.8 L231,114.8 L234.2,112 L236.2,109.6 L235.8,106.4 L235,104 L235.8,102.4 L237,99 L239,95 L242,92 L245,90 L248.1,87.9 L250.8,87.9 L253.5,86.1 L256.2,83.4 L258.9,81.6 L261.6,82.5 L260.7,86.1 L258.9,91.5 L257.1,97.8 L255.3,103.2 L252.6,106.5 L249.4,107.2 L245.4,109.6 L241.4,111.2 L237.4,114 L233.4,116.8 L229.4,119.2 L226.2,123.2 L225.8,125.2 L228.6,124 L231.8,121.6 L235.8,119.6 L237.4,121.6 L237.4,124.4 L240.6,126 L243.8,124.8 L247,122.8 L249.4,120.8 L250.2,118 L252.6,118.4 L255,119.2 L258.9,123 L262.5,124.8 L266.1,126.6 L269.7,128.4 L273.3,130.2 L276.9,132 L280.5,132 L285,131.1 L290,130.4 L300.4,130 L299.2,127.2 L298,124 L297.6,121.6 L295.6,121.2 L293.6,119.6 L292.8,116.8 L292.8,114 L291.6,113.6 L290.8,112.8 L292.4,112 L297.2,108.8 L302,104.8 L306,101.6 L310,97.2 L316,96 L322,94.2 L328,93 L335,91.8 L342.2,92.7 L344.9,96.3 L347.6,99 L353,99 L356.6,100.8 L360.2,98.1 L365.6,99 L370.1,100.8 L371.9,95.4 L372.8,90 L375.5,84.6 L380,81 L384.5,81 L389,83.7 L393.5,86.4 L392.6,90 L388.1,90.9 L384.5,94.5 L382.7,97.2 L382.7,101.7 L380,104.4 L376.4,106.2 L375.5,110.7 L378.2,114.3 L377.3,119.7 L380,123.3 L384.5,124.2 L389,126 L390.8,129.6 L394.4,130.5 L397.1,126 L397.1,120.6 L394.4,117.9 L392.6,114.3 L391.7,110.7 L393.5,109.8 L396.2,112.5 L400.7,115.2 L404.3,115.2 L407.9,113.4 L409.7,108.9 L412.4,105.3 L414.2,101.7 L416,97.2 L417.8,94.5 L421.4,92.7 L425,90.9 L430,89.3 L435,88.8 L440,89 L450.6,88.4 L459.1,90 L463.3,92.1 L469.7,95.3 L475,98.5 L477.1,102.8 L479.8,104.3 L482.4,107 L484.5,110 L487,113 L490.5,117 L494,121.5 M287,115.4 L287.4,112.8 L289.2,108.8 L291.6,105.6 L293.6,101.6 L294.4,100 L295.6,96 L296.8,91.8 L299.2,94.2 L302.8,91.2 L305.2,86.4 L306.4,83.4 L308.2,82.8 L309.4,85.2 L311.2,84 L313.6,81.6 L313,79.2 L312.4,75.6 L313,73.8 L313.3,71 M290.8,112.8 L293.2,109.6 L295.6,105.6 L297.6,102.4 L299.2,99.6 L304,94.2 L308.8,88.8 L312.4,84 L316,80.4 L319.6,77.4 L322.6,76.2 L324.4,78 L326.8,76.8 L329.2,75 L330.4,73.8 L331,71 M448,76.2 L452.7,74.7 L461.2,73.9 L465.5,74.7 L464.4,77.8 L461.2,80.5 L455.9,81.3 L450.6,80.5 L448,78.9 Z M184.8,140.4 L189.6,141.6 L196.8,145.2 L204,148.8 L207.6,151.2 L210,148.8 L212.4,152.4 L217.2,153.6 L220.8,162 L226,166 L231.6,170.4 L237.6,177.6 L242.4,180 L246,183.6 L249.6,190 L249.6,196.8 L254.4,201.6 L256.8,206.4 L255,212 L250,214 L247,216 L246,220 L248,223 L247,227 L251,230 L253,234 L256,237 L258,240 L260,243 L262,246 L265,248 L266,250 L267,253 L267,262 L266,271 L267,275 L269,279 L270,283 L269,289 M225.6,182.9 L229.2,183.6 L230.4,188.4 L234,189.6 L236.4,190.8 L234,193.2 L230.4,192 L229.2,187.2 Z M230,234 L233,236 L238,234 L241,231 L243,227 L242,225 L239,226 L236,229 L232,231 Z M244.8,258 L245.6,265 L246.5,272 L248.8,278.5 L253,283.5 L258,286 L262.5,284 L261,281.5 L256,279 L252,275.5 L249.8,270 L248.6,264 L247.8,258 Z M269,290 L264,296 L259,301.2 L262.2,304.4 L265.4,307.6 L262.2,310.8 L260.6,315.6 L262.2,319.6 L259,322 L257.4,324.4 L255,322.8 L254.2,320.4 L256.6,318.8 L253,317 L250,318 M246,316 L242,312 L238.2,310 L234.2,308.4 L230.2,307.6 L227,310 L226.2,313.2 L223.8,316 L221,322 L219,328 L217,333 L215,340 L213,348 L212,352 L209,357 L206,362 L208,368 L212,372 L216,371 L219,369 L221,373 L224,377 L226,382 L225,386 L222,385 L220,382 L219,378 L217,376 L216,380 L217,384 L218,390 L216,391 L212,394 L208,396 L206,399 L202,405 L199,410 L195,412 L192,413 L189,414 L186,415 L182,416 L180,417 L184,421 L187,425 L189,429 L190,433 L191,438 L191,442 M233,334 L232,340 L231,346 L231,354 L233,362 L233,370 L232,376 L230,380 L228,383 L227,386 L229,389 L233,389 L237,387 L241,385 L244,383 L247,380 L248,377 L247,373 L248,369 L250,367 L251,364 L249,361 L247,359 L250,356 L254,353 L256,351 L254,350 L250,353 L247,356 L245,357 L243,355 L239,352 L236,349 L235,343 L237,339 L238,334 L236,332 Z M183,372 L188,372 L187,375 L185.5,377 L189,376.5 L190,378 L189,381 L187.5,383.5 L190,387 L193,391 L195,394 L197,398 L199.5,400 L200,404 L199,407 L197,409 L194,409.5 L190,409 L186,409 L182,410 L179,411 L178,410 L180,408 L183,406 L185,405 L184,404 L181,403 L180,401 L182.5,399 L182,396 L185,395 L186,393 L184,391 L181.5,390 L183,388 L181.5,386 L180,383 L180,379 L181,375 Z M169,391.5 L176,386.5 L178.5,387.5 L179,391 L178,395 L177,399 L174,401 L170,403 L166.5,400.5 L169,397 L169,394 Z M198,280 L201,276 L207,275 L211,274 L214,276 L215,282 L216,288 L213,294 L207,296 L201,293 L198,288 Z M236.4,429.2 L240,428 L244.8,430.4 L248.4,434 L254.4,436.4 L260.4,437.6 L265.2,438.8 L268,441 M238.8,431.6 L241,435 L243.6,438.8 L244.5,441 M290.8,400 L294.4,398.8 L298,401.2 L301.6,403.6 L305.2,401.2 L304,395.2 L306.4,390.4 L310,384.4 L311.2,386.8 L310,391.6 L308.8,396.4 L316,395.2 L324.4,394.7 L331.6,396.4 L335.2,400 L334,404.8 L329.2,408.4 L322,410.8 L316,413.2 L310,418 L306.4,422.8 L301.6,425.2 L296.8,426.4 L292,425.2 L290.8,419.2 L289.6,412 L290.8,406 Z M296.8,426.4 L296.8,428.8 L294.4,432.4 L289.6,434.8 L284.8,437.2 L282.4,439.6 L281.5,441.5 M338.8,355.6 L343.6,352 L348.4,354.4 L349.6,358 L347.2,362.8 L352,366.4 L359.2,367.6 L362.8,364 L368.8,364 L370,367.6 L367.6,371.2 L371.2,372.4 L377.2,374.8 L383.2,377.2 L384.4,382 L380.8,386.8 L376,389.2 L370,391.6 L365.2,389.2 L362.8,384.4 L362.8,380.8 L356.8,379.6 L349.6,378.4 L343.6,377.2 L338.8,374.8 L336.4,370 L337.6,364 Z M329.2,441 L329.2,438.4 L328,434.8 L331.6,432.4 L334,431.2 L336.4,434.8 L337.6,438.4 L337.6,441 M495,352 L493,351.6 L488.3,349.1 L483.2,350.4 L478.2,354.1 L473.2,356.6 L466.9,359.2 L464.3,365.5 L461.8,373 L458,380.6 L453,388.1 L448,394.4 L442.9,398.2 L439.2,396.9 L434.1,398.2 L431.6,403.2 L430.4,408.3 L426.6,410.8 L420.3,413.3 L412.7,414.6 L405.2,415.8 L401.4,414.6 L397.6,417.1 L398.9,420.8 L396.4,423.4 L400.1,424.6 L407.7,424.6 L415.2,425.9 L421.5,428.4 L425.3,430.9 L424.1,425.9 L426.6,424.6 L429.1,428.4 L430.4,430.9 L434.1,429.7 L437.9,424.6 L440.4,420.8 L440.4,413.3 L439.2,405.7 L437.9,402 L442.9,403.2 L449.2,404.5 L454.3,400.7 L460.6,399.4 L466.9,399.4 L469.4,403.2 L471.9,410.8 L474.4,414.6 L475.7,419.6 L476.9,425.9 L478.2,430.9 L479.5,436 L478.7,442 M94,238.6 L88,239.4 L86.4,237.8 L83.2,235.4 L80.8,233 L77.6,230.6 L73.6,229 L69.6,228.2 L66.4,227.4 L64,229 L60.8,231.4 L57.6,233 L54.4,237.8 L51.2,243.4 L49.6,249.8 L50,254 L48,258 L44,261 L40,262 L36,264 L32,267 L33,269 L40,269 L46,267 L51,270 L57,271 L62,268 L66,265 L72,264 L78,263 L82,264 L83,268 L82,273 L81,279 L78,284 L74,286 L76,289 L82,292.4 L78.8,296.4 L74.8,301.2 L71.6,306 L69.2,310.8 L68.4,315.6 L69.2,319.6 L67.6,323.6 L66,326 L63.6,328.4 L60.4,330.8 L58.8,330 L55.6,328.4 L51.6,326.8 L47.6,324.4 L44.4,320.4 L42,315.6 L40.4,311.6 L37.2,307.6 L32.4,304.4 L27.6,302 L22.8,300.4 L17,299.4 M94,238.6 L97.6,245.8 L100.8,247.4 L104,248.2 L107.2,247.4 L110.4,248.2 M82.4,245 L85.6,246.6 L88,249 L86.4,251.4 L84,253 L80,252 L79,249 Z M78,254 L80,255 L79,257 L77,256 Z M86,255 L89,256 L88,258 L85,257 Z M17,319.6 L21.2,318 L24.4,316.4 L27.6,315.6 L30,316.4 L32.4,318 L34,320.4 L33.2,323.6 L31.6,326 L29.2,328.4 L26,329.2 L23.6,327.6 L22,324.4 M17,331.6 L22.8,332.4 L27.6,333.2 L30.8,334.8 L32,333 M38.8,315.6 L41.2,316.4 L42,320.4 L40.4,322 L38.8,320.4 Z M38.8,331.4 L42,333 L41.2,337.8 L42,341 L40.4,344.2 L43.6,345.8 L45.2,349 L46.8,351.4 L50,350.6 L51.6,347.4 L54.8,344.2 L54,340.2 L52.4,336.2 L54.8,334.6 L58,333 L54.8,331.4 L50,332.2 L45.2,330.6 Z M148.2,251.4 L151.4,252.2 L156,254.6 L158,254.5 L164,255 L170,256 L173,260 L177,262 L181,265 L184,269 L187,272 L184,275 L181,278 L180,282 L178,286 L176,291 L174,295 L172,299 L170,303 L169,304 L166,309 L164,314 L161,315 L157,316 L153,317 L148,317 L143,316 L138,317 L134,318 L129,319 L125,320 L121,322 L117,321 L113,323 L110,327 L107,330 L105,328 L103,324 L104,319 L106,314 L108,310 L110,306 L113,304 L117,302 L120,300 L123,298 L126,294 L128,290 L129,287 L132,284 L131.4,281.8 L133.8,280.2 L137,278.6 L139.4,275.4 L141.8,272.2 L144.2,269 L145,266.6 L144.2,264.2 L142,262 L141,259.4 L142,257 L144.2,255.4 L146,259 L146.6,257 L146.6,254 Z M154,233.2 L158.8,232.6 L163.6,235.6 L167.2,240.4 L169,245.8 L168.4,250.6 L166,253.6 L162.4,254.8 L158.2,253.6 L155.2,250 L154,244 L154,238 Z M167.2,254.8 L169.6,256 L170.8,258.4 L172,260.8 L175.6,258.4 L179.2,259.6 L181.6,262 L184,265 M153.4,330.7 L155.5,329.3 L157.9,329.7 L159,331.8 L161.1,333.2 L163.2,332.5 L165.3,333.9 L167.4,333.2 L169.8,334.2 L170.5,336 L170.2,338.1 L170.9,340.2 L169.5,342.3 L166.7,343.7 L163.2,344 L159.7,344.7 L157.2,343.3 L154.8,341.6 L152.7,340.2 L153,338.4 L152,336.7 L153,335 L152.7,333.2 Z M131,187 L127,188.5 L122.2,190.3 L117.1,195.4 L112,198 L109.5,202.2 L107.8,207.3 L110.3,210.7 L107.8,214.1 L105.2,217.5 L104.4,221.8 L106.9,226 L103.5,229.4 L102.7,234.5 L105.2,237.9 L102.7,241.3 L100.1,244.7 L98.4,248.1 M115.4,198.8 L120.5,197.1 L124.8,200.5 L129,200.5 L131.6,204.8 L129,209 L130.7,213.3 L127.3,215.8 L129,219.2 L125.6,222.6 L120.5,223.5 L117.1,220.9 L113.7,217.5 L114.6,212.4 L112.9,207.3 L113.7,202.2 Z M129.9,194.6 L134.1,192.9 L138.4,196.3 L141.8,200.5 L139.2,203.9 L134.1,203.1 L130.7,199.7 Z M137.5,209 L141,207.5 L144,210 L143,214 L139,214.5 L137,212 Z M143,213.5 L146.5,212.5 L149,215.5 L147.5,218.5 L144,218 Z M135,216 L139,215.5 L141,219 L138.5,221.5 L135.5,220 Z M145,219 L149,218 L151.5,221 L150,225 L146,224.5 Z M116,226 L120.5,226 L125.6,227.7 L129,226.5 L132.4,226 L136,227.5 L139.2,227.7 L144.3,226 L148,228.5 L151,227 M130.5,236 L134.5,235 L137,238.5 L135,242.5 L131,242 L129.5,239 Z M139,232 L143,231 L146,234 L144.5,237.5 L140,237 Z M142.5,240 L147,239 L149.5,243 L147,246.5 L143,245.5 Z M108,233 L112,232 L115,235 L113.5,239 L109,238.5 Z M114,240 L118,239.5 L120,243 L117,245.5 L113.5,244 Z M152,229 L155,228.5 L156,231.5 L153,233 Z M100,221 L103,219 L107.2,218.6 L112,222.2 L116.8,219.8 L121.6,218.6 L126.4,221 L130,219 L134,221 M104.8,229.4 L108,231 L112,230.6 L118,228.2 L124,227 L131.2,228.2 L136,230.6 L142,229.4 L148,227 L152.8,224.6 M100,239 L106,240.2 L112,237.8 L115.6,236.6 M113.2,239 L112.6,248.6 L113.2,257 L115.6,265.4 L118,271.4 M136,239 L139.6,235.4 L145.6,234.2 L150.4,236.6 L155.2,235.4 L160,234.2 M142,248.6 L145.6,251 L150.4,253.4 L155.2,251 L158,249 M100,260.6 L104.8,259.4 L107.2,263 L103.6,265.4 M108,244 L112,243 L114,247 L110,249 L107,247 Z M132,212 L135,211 L137,214 L134,216 Z M148,202 L151,201 L152,204 L149,205 Z M156,222 L159,221 L160,224 L157,226 Z M222,262.5 L224.5,262.5 L224.5,265 L222,265 Z M175,132.7 L179.5,133.6 L181.3,131.8 L183,133.6 L180.4,136.3 L178.6,138 L176,141 L175,147 L175.9,152.3 L175.9,161 L174,167.5 L170.5,171 L166,172.9 L159,173.8 L150,174.6 L143,177 L136,178.5 L131,182 L128,186 M130,214 L134,211 L138,214 L142,212 L146,215 L150,213 M128,222 L132,220 L136,223 L140,221 L145,224 L150,222 L154,225 M134,230 L138,228 L142,231 L146,229 L150,232 L153,230 M136,238 L140,236 L144,239 L148,237 L152,240 M138,246 L142,244 L146,247 L150,245 M140,216 L143,215 L144,218 L141,219 Z M146,226 L149,225 L150,228 L147,229 Z M131,234 L134,233 L135,236 L132,237 Z M192,158.5 L194.5,157.2 L197,158 L195,159.8 Z M235.5,181.5 L237.5,181.5 L237.5,183.5 L235.5,183.5 Z M112.9,239.3 L113.9,245.7 L112.9,254.3 L115,259.7 L119.3,261.8 L118.2,267.2 L115,271.4 L111.8,272.5 M90.4,259.7 L94.6,260.7 L96.8,265 L101.1,263.9 L105.4,265 L109.7,262.9 M89.3,265 L88.2,272.5 L89.3,280 L91.4,285.4 L95.7,286.4 L98.9,282.2 L101.1,277.9 M95.7,249 L99,250 L103,251 L106.4,250 L109.7,247.9"/>
</g>
<rect x="18.3" y="73" width="474.6" height="367.4" fill="none" stroke="#000" stroke-width="2.2"/>
<rect x="18.35" y="464.5" width="45.46" height="22.70" fill="#4d004b"/>
<rect x="63.52" y="464.5" width="45.46" height="22.70" fill="#7b0d77"/>
<rect x="108.68" y="464.5" width="45.46" height="22.70" fill="#863696"/>
<rect x="153.84" y="464.5" width="45.46" height="22.70" fill="#8b5daa"/>
<rect x="199.01" y="464.5" width="45.46" height="22.70" fill="#8c83bd"/>
<rect x="244.17" y="464.5" width="45.46" height="22.70" fill="#94a7cf"/>
<rect x="289.34" y="464.5" width="45.46" height="22.70" fill="#a9c4de"/>
<rect x="334.50" y="464.5" width="45.46" height="22.70" fill="#c6d9e9"/>
<rect x="379.67" y="464.5" width="45.46" height="22.70" fill="#e3eef5"/>
<rect x="424.84" y="464.5" width="45.46" height="22.70" fill="#f7fcfd"/>
<path d="M470.0,464.5 L493.4,475.85 L470.0,487.2 Z" fill="#ffffff"/>
<path d="M470.0,464.5 L18.35,464.5 L18.35,487.2 L470.0,487.2 L493.4,475.85 Z" fill="none" stroke="#000" stroke-width="1.5" stroke-linejoin="miter"/>
<line x1="18.35" y1="487.2" x2="18.35" y2="495.5" stroke="#000" stroke-width="1.5"/>
<text x="5.00" y="522.5" font-size="25" textLength="35.1" lengthAdjust="spacingAndGlyphs">0.0</text>
<line x1="108.68" y1="487.2" x2="108.68" y2="495.5" stroke="#000" stroke-width="1.5"/>
<text x="95.33" y="522.5" font-size="25" textLength="35.1" lengthAdjust="spacingAndGlyphs">0.2</text>
<line x1="199.01" y1="487.2" x2="199.01" y2="495.5" stroke="#000" stroke-width="1.5"/>
<text x="185.66" y="522.5" font-size="25" textLength="35.1" lengthAdjust="spacingAndGlyphs">0.6</text>
<line x1="289.34" y1="487.2" x2="289.34" y2="495.5" stroke="#000" stroke-width="1.5"/>
<text x="275.99" y="522.5" font-size="25" textLength="35.1" lengthAdjust="spacingAndGlyphs">1.0</text>
<line x1="379.67" y1="487.2" x2="379.67" y2="495.5" stroke="#000" stroke-width="1.5"/>
<text x="366.32" y="522.5" font-size="25" textLength="35.1" lengthAdjust="spacingAndGlyphs">2.0</text>
<line x1="470.00" y1="487.2" x2="470.00" y2="495.5" stroke="#000" stroke-width="1.5"/>
<text x="456.65" y="522.5" font-size="25" textLength="35.1" lengthAdjust="spacingAndGlyphs">3.0</text>
<text x="245.4" y="554.8" font-size="26" textLength="20.94" lengthAdjust="spacingAndGlyphs">m</text>
</svg></body></html>
